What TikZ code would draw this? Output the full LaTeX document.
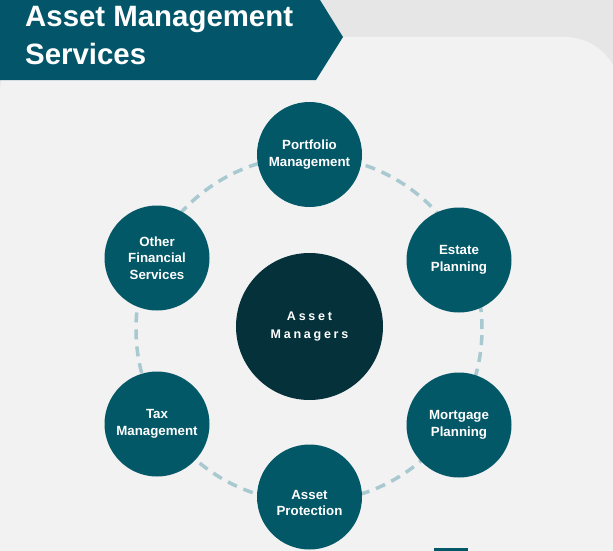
\documentclass[tikz,border=0pt]{standalone}
\usepackage{fontspec}
\setmainfont{Liberation Sans}
\newfontfamily\spacedfont[LetterSpace=22]{Liberation Sans}
\usepackage{tikz}
\usetikzlibrary{positioning}
\usepackage{xcolor}
\definecolor{bannerteal}{HTML}{03566A}
\definecolor{itemteal}{HTML}{035868}
\definecolor{coreteal}{HTML}{04313A}
\definecolor{ringblue}{HTML}{A9C9D0}
\definecolor{outergray}{HTML}{E6E6E6}
\definecolor{panelgray}{HTML}{F2F2F2}

\begin{document}
\begin{tikzpicture}[
    x=1pt, y=-1pt,
    % Node styles
    servicetext/.style={align=center, text=white, font=\bfseries\fontsize{13.3}{16.5}\selectfont},
    service/.style={circle, fill=itemteal, minimum size=105pt, inner sep=0pt, servicetext},
    core/.style={circle, fill=coreteal, minimum size=147pt, inner sep=0pt, align=center, text=white,
        font=\spacedfont\bfseries\fontsize{12.5}{18}\selectfont},
    titletext/.style={anchor=base west, inner sep=0pt, text=white, font=\bfseries\fontsize{29.4}{37}\selectfont},
    ring/.style={draw=ringblue, line width=3.5pt, dash pattern=on 10pt off 7pt},
]

\clip (0, 0) rectangle (613, 551);

% ============================================================================
% BACKGROUND
% ============================================================================
\fill[outergray] (0, 0) rectangle (613, 551);
\fill[panelgray, rounded corners=55pt] (0, 37) -- (620, 37) -- (620, 620) -- (0, 620) -- cycle;

% Title banner
\fill[bannerteal] (0, 0) -- (320, 0) -- (343, 37) -- (316, 80) -- (0, 80) -- cycle;
\node[titletext] (title1) at (25, 27) {Asset Management};
\node[titletext] (title2) at (25, 64) {Services};

% ============================================================================
% RING OF SERVICES
% ============================================================================
\draw[ring] (309, 329) circle (173pt);

\node[core] (managers) at (309.5, 326.5) {Asset\\Managers};

\node[service] (portfolio) at (309.5, 154.5) {Portfolio\\Management};
\node[service] (estate) at (459, 260) {Estate\\Planning};
\node[service] (mortgage) at (459, 425) {Mortgage\\Planning};
\node[service, label={[servicetext, yshift=-6pt]center:{Asset\\Protection}}] (protection) at (309.5, 497) {};
\node[service] (tax) at (157, 424) {Tax\\Management};
\node[service] (other) at (157, 258) {Other\\Financial\\Services};

% Bottom marker
\fill[itemteal] (434, 548) rectangle (468, 555);

\end{tikzpicture}
\end{document}
